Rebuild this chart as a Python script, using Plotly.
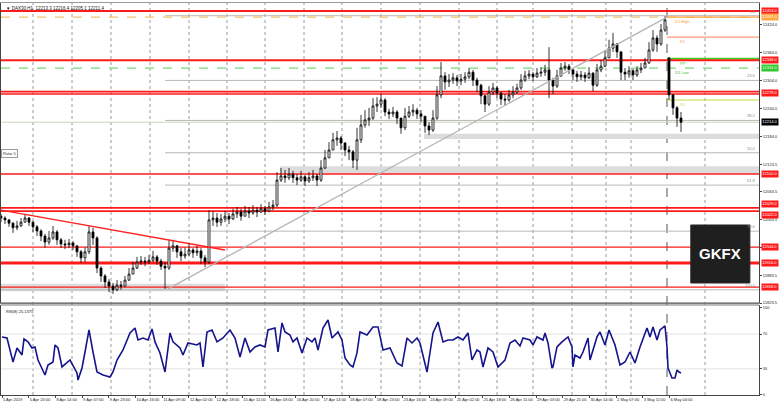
import plotly.graph_objects as go

# ---------------- data ----------------
closes = [
    12007, 12003, 11996, 11986, 11990, 11998, 12007, 11998, 11988, 11979,
    11968, 11955, 11964, 11977, 11960, 11951, 11949, 11953, 11947, 11934,
    11921, 11934, 11977, 11964, 11899, 11882, 11869, 11860, 11852, 11862,
    11860, 11873, 11886, 11899, 11912, 11914, 11912, 11916, 11923, 11914,
    11903, 11899, 11942, 11947, 11934, 11925, 11929, 11938, 11932, 11936,
    11921, 11912, 12003, 12007, 11998, 12005, 12011, 12005, 12016, 12020,
    12011, 12022, 12018, 12024, 12020, 12027, 12022, 12031, 12035, 12089,
    12098, 12094, 12102, 12094, 12089, 12096, 12087, 12094, 12098, 12089,
    12115, 12137, 12154, 12176, 12180, 12169, 12154, 12150, 12132, 12176,
    12208, 12219, 12223, 12249, 12253, 12262, 12236, 12232, 12236, 12223,
    12202, 12227, 12236, 12240, 12232, 12227, 12206, 12197, 12223, 12273,
    12314, 12301, 12305, 12310, 12303, 12307, 12312, 12322, 12305, 12294,
    12271, 12253, 12279, 12288, 12277, 12264, 12262, 12273, 12279, 12288,
    12305, 12314, 12318, 12312, 12320, 12322, 12327, 12305, 12292, 12314,
    12331, 12335, 12327, 12318, 12312, 12316, 12310, 12320, 12294, 12327,
    12335, 12353, 12374, 12383, 12366, 12322, 12318, 12325, 12316, 12327,
    12331, 12342, 12370, 12396, 12383, 12413, 12435, 12273, 12245, 12223,
    12214,
]
highs = [
    12016, 12011, 12005, 11998, 12001, 12007, 12016, 12009, 12001, 11992,
    11983, 11973, 11979, 11990, 11981, 11964, 11960, 11962, 11957, 11947,
    11938, 11943, 11990, 11986, 11968, 11903, 11886, 11875, 11867, 11873,
    11871, 11882, 11899, 11912, 11923, 11925, 11923, 11927, 11936, 11927,
    11919, 11912, 11960, 11960, 11949, 11942, 11943, 11951, 11942, 11947,
    11942, 11927, 12024, 12022, 12018, 12016, 12022, 12018, 12027, 12031,
    12027, 12033, 12031, 12035, 12031, 12037, 12033, 12042, 12046, 12106,
    12115, 12111, 12115, 12109, 12102, 12109, 12100, 12106, 12111, 12102,
    12132, 12154, 12171, 12191, 12195, 12184, 12171, 12163, 12154, 12202,
    12230, 12240, 12245, 12266, 12268, 12275, 12266, 12243, 12247, 12240,
    12219, 12245, 12249, 12253, 12245, 12240, 12227, 12214, 12240, 12292,
    12344, 12322, 12318, 12320, 12316, 12318, 12322, 12331, 12327, 12310,
    12297, 12273, 12292, 12299, 12292, 12279, 12275, 12284, 12292, 12297,
    12318, 12325, 12327, 12322, 12331, 12333, 12338, 12376, 12310, 12327,
    12342, 12344, 12340, 12331, 12325, 12325, 12322, 12333, 12322, 12340,
    12348, 12370, 12392, 12407, 12385, 12366, 12331, 12335, 12329, 12335,
    12342, 12353, 12387, 12413, 12402, 12426, 12443, 12353, 12275, 12249,
    12236,
]
lows = [
    11998, 11994, 11988, 11975, 11981, 11988, 11998, 11990, 11977, 11968,
    11957, 11943, 11949, 11960, 11949, 11942, 11940, 11942, 11938, 11923,
    11910, 11912, 11929, 11949, 11888, 11869, 11856, 11847, 11843, 11849,
    11852, 11858, 11871, 11886, 11897, 11906, 11903, 11908, 11912, 11906,
    11895, 11854, 11895, 11934, 11921, 11914, 11919, 11925, 11921, 11925,
    11908, 11901, 11908, 11990, 11988, 11990, 11998, 11994, 12003, 12007,
    12001, 12011, 12007, 12014, 12009, 12018, 12014, 12020, 12024, 12031,
    12085, 12083, 12089, 12083, 12078, 12085, 12076, 12083, 12087, 12076,
    12085, 12113, 12137, 12154, 12163, 12154, 12141, 12132, 12115, 12111,
    12169, 12202, 12206, 12219, 12236, 12245, 12227, 12221, 12225, 12210,
    12189, 12197, 12223, 12227, 12221, 12214, 12191, 12186, 12193, 12219,
    12266, 12284, 12290, 12297, 12292, 12294, 12299, 12307, 12292, 12279,
    12253, 12236, 12249, 12273, 12266, 12251, 12249, 12258, 12266, 12275,
    12284, 12301, 12307, 12303, 12310, 12312, 12314, 12266, 12275, 12288,
    12312, 12325, 12318, 12305, 12301, 12305, 12301, 12307, 12281, 12290,
    12322, 12333, 12353, 12366, 12353, 12305, 12305, 12310, 12305, 12312,
    12320, 12331, 12340, 12366, 12366, 12379, 12409, 12262, 12230, 12204,
    12193,
]
first_open = 12011
gap_bar = 167          # first bar of 6 May opens with a gap
gap_open = 12353

rsi_bars = [
    0.25, 1.5, 3, 4, 5.25, 5.75, 6.75, 7.75, 8.5, 9.25, 11, 11.75, 13, 13.5, 14.25,
    15.25, 17.25, 19, 19.25, 20.25, 21, 22, 23, 24, 25.5, 27.25, 28, 29, 30.5, 32.25,
    33.5, 34.25, 35.5, 36.75, 37.75, 38.5, 39.75, 41, 42.25, 43, 44.75, 45.5, 46.75,
    49, 49.75, 50.5, 51.5, 52.75, 54, 55.5, 57.25, 58.5, 59.75, 61, 62.25, 63.5,
    64.75, 66, 66.75, 68.5, 69.25, 70.25, 71, 72.25, 73, 74, 75.25, 76.5, 77.75,
    78.5, 79.25, 80.5, 81.75, 82.75, 84.25, 85.25, 86, 87.25, 88, 89, 89.75, 91.5,
    93, 94.25, 95.5, 97.25, 99, 100.25, 101.5, 102.75, 104, 104.75, 106.5, 108,
    109.25, 110.5, 111.75, 113, 114.25, 115.5, 116.75, 117.75, 119, 119.75, 120.5,
    121.75, 123, 124.25, 126, 127.25, 128.5, 129.75, 130.5, 132.25, 133, 134, 135.5,
    136, 136.75, 137.75, 138, 139, 140.25, 141.5, 141.75, 142.75, 143, 143.5, 144.75,
    145.5, 146.75, 147.25, 149, 149.75, 151, 152, 153.5, 154.75, 156, 157.25, 158.5,
    159.75, 161.5, 162.25, 163, 164, 164.75, 166, 166.5, 166.75, 167.75, 168.5, 169,
    169.5, 170,
]
rsi_values = [
    66.7, 65.5, 37.9, 54.0, 46.0, 64.4, 61.0, 54.0, 55.2, 40.2, 23.0, 34.5, 37.9, 57.5, 54.0,
    32.2, 40.2, 25.3, 17.2, 31.0, 49.4, 74.7, 49.4, 26.4, 23.0, 20.7, 26.4, 40.2, 51.7, 71.3,
    77.0, 63.2, 65.5, 63.2, 75.9, 61.0, 48.3, 26.4, 71.3, 61.0, 54.0, 46.0, 59.8,
    57.5, 59.8, 32.2, 72.4, 74.7, 61.0, 65.5, 74.7, 65.5, 43.7, 65.5, 49.4, 55.2,
    57.5, 55.2, 74.7, 77.0, 49.4, 82.8, 72.4, 69.0, 61.0, 65.5, 48.3, 65.5, 61.0,
    65.5, 51.7, 77.0, 86.2, 65.5, 72.4, 63.2, 42.5, 34.5, 32.2, 48.3, 72.4, 69.0,
    78.2, 78.2, 51.7, 54.0, 36.8, 33.3, 65.5, 59.8, 65.5, 59.8, 26.4, 71.3,
    83.9, 61.0, 63.2, 63.2, 66.7, 63.2, 71.3, 40.2, 51.7, 49.4, 32.2,
    54.0, 49.4, 32.2, 40.2, 59.8, 63.2, 56.3, 65.5, 63.2, 57.5, 66.7, 63.2,
    71.3, 59.8, 31.0, 32.2, 55.2, 61.0, 65.5, 66.7, 55.2, 32.2, 46.0, 42.5,
    49.4, 65.5, 40.2, 66.7, 72.4, 57.5, 74.7, 57.5, 34.5, 37.9, 49.4, 36.8,
    55.2, 77.0, 66.7, 78.2, 63.2, 74.7, 79.3, 55.2, 31.0, 19.5, 19.5, 28.7,
    26.4, 25.3,
]

time_labels = [
    "5 Apr 2019", "5 Apr 20:00", "8 Apr 14:00", "9 Apr 07:00", "9 Apr 23:00",
    "10 Apr 16:00", "11 Apr 09:00", "12 Apr 02:00", "12 Apr 18:00", "15 Apr 11:00",
    "16 Apr 03:00", "16 Apr 20:00", "17 Apr 14:00", "18 Apr 07:00", "18 Apr 23:00",
    "23 Apr 16:00", "24 Apr 09:00", "25 Apr 02:00", "25 Apr 18:00", "26 Apr 11:00",
    "29 Apr 03:00", "29 Apr 21:00", "30 Apr 14:00", "2 May 07:00", "3 May 11:00",
    "6 May 04:00",
]
price_ticks = [12424.0, 12364.0, 12304.0, 12244.0, 12184.0, 12123.5,
               12063.5, 12003.5, 11943.5, 11883.5, 11823.5]
rsi_ticks = [0, 30, 70, 100]

red_levels = [12454, 12348, 12280, 12275, 12102, 12029, 12022, 11944, 11910, 11858]
red_label_values = [12454, 12348, 12278, 12102, 12029, 12022, 11944, 11910, 11858]
d1_high = 12441
d1_low = 12331
pivot_names = ["R1", "PP", "S1"]
pivot_values = [12398, 12351, 12262]
last_price = 12214
fib_high = 12444
fib_low = 11852
fib_ratios = [0.0, 23.6, 38.2, 50.0, 61.8, 78.6, 100.0]
zone_tops = [12189, 12119, 11865]
zone_bottoms = [12178, 12104, 11849]
red_trend_x = [0, 56]
red_trend_y = [12024, 11938]
gray_trend_x = [41.75, 166.5]
gray_trend_y = [11854, 12441]

# ---------------- layout constants ----------------
X_MAX = 189.5
SEP_BAR = 166.5
FIB_START = 41
ZONE_STARTS = [105.75, 69.75, 0]
ZONE_ENDS = [X_MAX, X_MAX, 56]
RED_WIDTHS = [2, 2, 1.6, 1.6, 1.5, 1.6, 1.6, 1.3, 3, 1.3]
GRID_BARS = [8, 17.75, 27.5, 37.25, 47, 56.5, 66, 75.75, 85.25, 95, 104.75,
             114.5, 124, 133, 142.75, 151.25, 157.5, 176]
LABEL_STEP = 6.675
MAIN_DOM = [0.2347, 1.0]
RSI_DOM = [0.0, 0.2296]
FONT = "Liberation Sans, Arial, sans-serif"

opens = [first_open] + closes[:-1]
opens[gap_bar] = gap_open
bars = list(range(len(closes)))

fig = go.Figure()
fig.add_trace(go.Candlestick(
    x=bars, open=opens, high=highs, low=lows, close=closes,
    xaxis="x", yaxis="y",
    increasing=dict(line=dict(color="#000000", width=0.8), fillcolor="#ffffff"),
    decreasing=dict(line=dict(color="#000000", width=0.8), fillcolor="#000000"),
    whiskerwidth=0, showlegend=False, hoverinfo="skip",
))
fig.add_trace(go.Scatter(
    x=rsi_bars, y=rsi_values, xaxis="x2", yaxis="y2", mode="lines",
    line=dict(color="#14148c", width=1.6), showlegend=False, hoverinfo="skip",
))
fig.add_trace(go.Scatter(x=red_trend_x, y=red_trend_y, mode="lines", xaxis="x", yaxis="y",
                         line=dict(color="#ff2020", width=1.3), showlegend=False, hoverinfo="skip"))
fig.add_trace(go.Scatter(x=gray_trend_x, y=gray_trend_y, mode="lines", xaxis="x", yaxis="y",
                         line=dict(color="#b4b4b4", width=1.3), showlegend=False, hoverinfo="skip"))

shapes = []
for t, b, s, e in zip(zone_tops, zone_bottoms, ZONE_STARTS, ZONE_ENDS):
    shapes.append(dict(type="rect", xref="x", yref="y", x0=s, x1=e, y0=b, y1=t,
                       fillcolor="#dcdcdc", line=dict(width=0), layer="below"))
for gb in GRID_BARS:
    shapes.append(dict(type="line", xref="x", yref="paper", x0=gb, x1=gb, y0=0, y1=1,
                       line=dict(color="#9a9a9a", width=1, dash="dot"), layer="below"))
shapes.append(dict(type="line", xref="x", yref="paper", x0=SEP_BAR, x1=SEP_BAR, y0=0, y1=1,
                   line=dict(color="#555555", width=1, dash="dash"), layer="below"))
for r in fib_ratios:
    p = fib_high - (fib_high - fib_low) * r / 100.0
    shapes.append(dict(type="line", xref="x", yref="y", x0=FIB_START if r < 100 else 0, x1=X_MAX,
                       y0=p, y1=p, line=dict(color="#b8b8b8", width=1), layer="below"))
shapes.append(dict(type="line", xref="x", yref="y", x0=0, x1=X_MAX, y0=last_price, y1=last_price,
                   line=dict(color="#c8d8b8", width=1), layer="below"))
shapes.append(dict(type="line", xref="x", yref="y", x0=0, x1=X_MAX, y0=d1_high, y1=d1_high,
                   line=dict(color="#f2c46a", width=1.2, dash="dash"), layer="below"))
shapes.append(dict(type="line", xref="x", yref="y", x0=SEP_BAR, x1=X_MAX, y0=d1_high, y1=d1_high,
                   line=dict(color="#ffa640", width=1.2), layer="below"))
shapes.append(dict(type="line", xref="x", yref="y", x0=0, x1=X_MAX, y0=d1_low, y1=d1_low,
                   line=dict(color="#7fd87f", width=1.2, dash="dash"), layer="below"))
pivot_colors = ["#ff9a7a", "#3cd21e", "#c8dc3c"]
pivot_widths = [1.2, 2, 1.2]
for v, c, w in zip(pivot_values, pivot_colors, pivot_widths):
    shapes.append(dict(type="line", xref="x", yref="y", x0=SEP_BAR, x1=X_MAX, y0=v, y1=v,
                       line=dict(color=c, width=w), layer="below"))
for lv, w in zip(red_levels, RED_WIDTHS):
    shapes.append(dict(type="line", xref="x", yref="y", x0=0, x1=X_MAX, y0=lv, y1=lv,
                       line=dict(color="#ff1a1a", width=w), layer="below"))
for lv in (30, 70):
    shapes.append(dict(type="line", xref="x2", yref="y2", x0=0, x1=X_MAX, y0=lv, y1=lv,
                       line=dict(color="#e2e2e2", width=1), layer="below"))
shapes.append(dict(type="line", xref="paper", yref="paper", x0=0, x1=1, y0=MAIN_DOM[0], y1=MAIN_DOM[0],
                   line=dict(color="#555555", width=1.2)))
shapes.append(dict(type="line", xref="paper", yref="paper", x0=0, x1=1, y0=RSI_DOM[1], y1=RSI_DOM[1],
                   line=dict(color="#777777", width=1)))
shapes.append(dict(type="rect", xref="paper", yref="paper", x0=0.910, x1=0.988, y0=0.2857, y1=0.4337,
                   fillcolor="#1f1f1f", line=dict(color="#2a2a2a", width=1), layer="above"))

ann = []
small = dict(family=FONT, size=4, color="#222222")
box_specs = []
for p in red_label_values:
    anchor = "middle"
    if p == 12029:
        anchor = "bottom"
    elif p == 12022:
        anchor = "top"
    box_specs.append((p, "#ff1a1a", anchor))
box_specs += [(d1_high, "#ffa640", "middle"), (d1_low, "#2ec82e", "middle"),
              (last_price, "#000000", "middle")]
for p, bg, anchor in box_specs:
    ann.append(dict(xref="paper", yref="y", x=1, xanchor="left", xshift=2, y=p, yanchor=anchor,
                    text=f"{p:.1f}", showarrow=False, bgcolor=bg, borderpad=0.3,
                    font=dict(family=FONT, size=4, color="#ffffff")))
for r in fib_ratios:
    p = fib_high - (fib_high - fib_low) * r / 100.0
    ann.append(dict(xref="paper", yref="y", x=1, xanchor="right", xshift=-1, y=p, yanchor="bottom",
                    text=f"{r:.1f}", showarrow=False, font=dict(family=FONT, size=4, color="#8c8c8c")))
for name, v, c in zip(pivot_names, pivot_values, pivot_colors):
    ann.append(dict(xref="x", yref="y", x=SEP_BAR + 2.7, xanchor="left", y=v, yanchor="top",
                    text=name, showarrow=False, font=dict(family=FONT, size=4, color=c)))
ann.append(dict(xref="x", yref="y", x=SEP_BAR + 1.5, xanchor="left", y=d1_high, yanchor="top",
                text="D1 High", showarrow=False, font=dict(family=FONT, size=4, color="#ff9a30")))
ann.append(dict(xref="x", yref="y", x=SEP_BAR + 1.5, xanchor="left", y=d1_low, yanchor="top",
                text="D1 Low", showarrow=False, font=dict(family=FONT, size=4, color="#40b840")))
ann.append(dict(xref="paper", yref="paper", x=0.004, xanchor="left", y=0.998, yanchor="top",
                text="\u25bc DAX30,H1  12213.3 12216.4 12205.1 12211.4", showarrow=False,
                font=dict(family=FONT, size=4.5, color="#111111")))
ann.append(dict(xref="paper", yref="paper", x=0.004, xanchor="left", y=RSI_DOM[1] - 0.004,
                yanchor="top", text="RSI(8) 25.1375", showarrow=False,
                font=dict(family=FONT, size=4, color="#111111")))
ann.append(dict(xref="paper", yref="paper", x=0.0, xanchor="left", y=0.615, yanchor="middle",
                text="Ratio 5", showarrow=False, bgcolor="#ffffff", bordercolor="#9a9a9a",
                borderwidth=1, borderpad=1, font=dict(family=FONT, size=4, color="#333333")))
ann.append(dict(xref="paper", yref="paper", x=0.949, y=0.3597, xanchor="center", yanchor="middle",
                text="<b>GKFX</b>", showarrow=False,
                font=dict(family="Liberation Sans, Arial, sans-serif", size=15, color="#ffffff")))

label_pos = [0.25 + LABEL_STEP * k for k in range(len(time_labels))]

fig.update_layout(
    width=780, height=406,
    margin=dict(l=1, r=21, t=3, b=11),
    paper_bgcolor="#ffffff", plot_bgcolor="#ffffff",
    showlegend=False,
    shapes=shapes, annotations=ann,
    font=dict(family=FONT, size=4, color="#222222"),
    xaxis=dict(domain=[0, 1], range=[0, X_MAX], anchor="y", showgrid=False, zeroline=False,
               showticklabels=False, ticks="", rangeslider=dict(visible=False),
               showline=True, linecolor="#9a9a9a", mirror=True),
    xaxis2=dict(domain=[0, 1], range=[0, X_MAX], anchor="y2", showgrid=False, zeroline=False,
                tickvals=label_pos, ticktext=time_labels, ticks="outside", ticklen=2,
                tickcolor="#444444", tickangle=0, ticklabelposition="outside right",
                tickfont=small, showline=True, linecolor="#444444"),
    yaxis=dict(domain=MAIN_DOM, range=[11823.5, 12471.5], side="right", anchor="x",
               tickvals=price_ticks, ticktext=[f"{v:.1f}" for v in price_ticks],
               ticks="outside", ticklen=2, tickcolor="#444444", tickfont=small,
               showgrid=False, zeroline=False, showline=True, linecolor="#444444", mirror=True),
    yaxis2=dict(domain=RSI_DOM, range=[0, 103.4], side="right", anchor="x2",
                tickvals=rsi_ticks, ticktext=[str(v) for v in rsi_ticks],
                ticks="outside", ticklen=2, tickcolor="#444444", tickfont=small,
                showgrid=False, zeroline=False, showline=True, linecolor="#444444", mirror=True),
)

fig.write_html(
    "out.html",
    config={"displayModeBar": False},
    post_script="document.body.style.margin='0';document.body.style.padding='0';"
                "document.documentElement.style.overflow='hidden';",
)
